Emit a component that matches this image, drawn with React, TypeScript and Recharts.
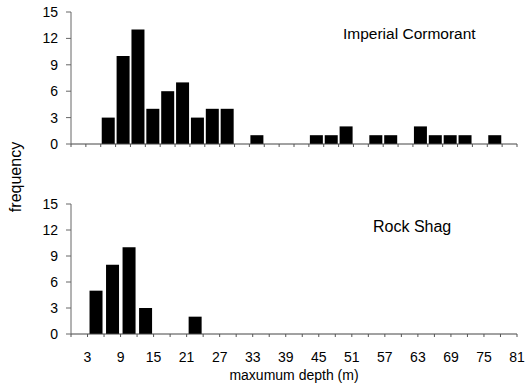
import { BarChart, Bar, XAxis, YAxis } from "recharts"

// Imperial Cormorant: 30 depth bins (top panel)
const cormorantBins = [
  "b01", "b02", "b03", "b04", "b05", "b06", "b07", "b08", "b09", "b10",
  "b11", "b12", "b13", "b14", "b15", "b16", "b17", "b18", "b19", "b20",
  "b21", "b22", "b23", "b24", "b25", "b26", "b27", "b28", "b29", "b30",
]
const cormorantCounts = [0, 0, 3, 10, 13, 4, 6, 7, 3, 4, 4, 0, 1, 0, 0, 0, 1, 1, 2, 0, 1, 1, 0, 2, 1, 1, 1, 0, 1, 0]

// Rock Shag: 3 m bins from 0 to 81 (bottom panel)
const shagBins = [
  "0-3", "3-6", "6-9", "9-12", "12-15", "15-18", "18-21", "21-24", "24-27",
  "27-30", "30-33", "33-36", "36-39", "39-42", "42-45", "45-48", "48-51", "51-54",
  "54-57", "57-60", "60-63", "63-66", "66-69", "69-72", "72-75", "75-78", "78-81",
]
const shagCounts = [0, 5, 8, 10, 3, 0, 0, 2, 0, 0, 0, 0, 0, 0, 0, 0, 0, 0, 0, 0, 0, 0, 0, 0, 0, 0, 0]
// upper edge of each bin, labelled on every other boundary
const shagEdges = ["3", "", "9", "", "15", "", "21", "", "27", "", "33", "", "39", "", "45", "", "51", "", "57", "", "63", "", "69", "", "75", "", "81"]

const yTicks = [0, 3, 6, 9, 12, 15]

const FONT = "'Liberation Sans', Arial, sans-serif"
const W = 531
const LEFT = 71
const RIGHT = 14
const PLOT_W = W - LEFT - RIGHT

const topData = cormorantBins.map((bin, i) => ({ bin, count: cormorantCounts[i] }))
const bottomData = shagBins.map((bin, i) => ({ bin, count: shagCounts[i] }))

interface TickProps {
  x?: number
  y?: number
  index?: number
}

function BoundaryTick({ x = 0, y = 0, index = 0, n, labels }: TickProps & { n: number; labels?: string[] }) {
  const bw = PLOT_W / n
  const left = x - bw / 2
  const right = x + bw / 2
  return (
    <g>
      <line x1={left} y1={y} x2={left} y2={y + 3} stroke="#555" />
      {index === n - 1 && <line x1={right} y1={y} x2={right} y2={y + 3} stroke="#555" />}
      {labels && labels[index] && (
        <text x={right} y={y + 28} textAnchor="middle" fontSize={14} fontFamily={FONT} fill="#000">
          {labels[index]}
        </text>
      )}
    </g>
  )
}

const yAxisProps = {
  type: "number" as const,
  domain: [0, 15],
  ticks: yTicks,
  width: LEFT,
  tickSize: 5,
  tickMargin: 8,
  interval: 0 as const,
  axisLine: { stroke: "#666" },
  tickLine: { stroke: "#666" },
  tick: { fontSize: 14, fontFamily: FONT, fill: "#000" },
}

export default function App() {
  return (
    <div style={{ position: "absolute", left: 0, top: 0, width: W, height: 389, background: "#fff" }}>
      <div style={{ position: "absolute", left: 0, top: 0 }}>
        <BarChart width={W} height={152} data={topData} margin={{ top: 12, right: RIGHT, bottom: 0, left: 0 }}>
          <XAxis
            dataKey="bin"
            height={8}
            interval={0}
            tickSize={0}
            tickMargin={0}
            tickLine={false}
            axisLine={{ stroke: "#444" }}
            tick={<BoundaryTick n={cormorantBins.length} />}
          />
          <YAxis {...yAxisProps} />
          <Bar dataKey="count" fill="#000" barSize={13} isAnimationActive={false} />
        </BarChart>
      </div>
      <div style={{ position: "absolute", left: 0, top: 190 }}>
        <BarChart width={W} height={199} data={bottomData} margin={{ top: 14, right: RIGHT, bottom: 0, left: 0 }}>
          <XAxis
            dataKey="bin"
            height={55}
            interval={0}
            tickSize={0}
            tickMargin={0}
            tickLine={false}
            axisLine={{ stroke: "#444" }}
            tick={<BoundaryTick n={shagBins.length} labels={shagEdges} />}
            label={{ value: "maxumum depth (m)", position: "insideBottom", offset: 9, fontSize: 14, fontFamily: FONT, fill: "#000" }}
          />
          <YAxis {...yAxisProps} />
          <Bar dataKey="count" fill="#000" barSize={13} isAnimationActive={false} />
        </BarChart>
      </div>
      <svg width={W} height={389} style={{ position: "absolute", left: 0, top: 0, pointerEvents: "none" }}>
        <text x={343} y={39} fontSize={15.5} fontFamily={FONT} fill="#000">Imperial Cormorant</text>
        <text x={373} y={232} fontSize={16} fontFamily={FONT} fill="#000">Rock Shag</text>
        <text
          x={0}
          y={0}
          transform="translate(21 177) rotate(-90)"
          textAnchor="middle"
          fontSize={16}
          fontFamily={FONT}
          fill="#000"
        >
          frequency
        </text>
      </svg>
    </div>
  )
}
